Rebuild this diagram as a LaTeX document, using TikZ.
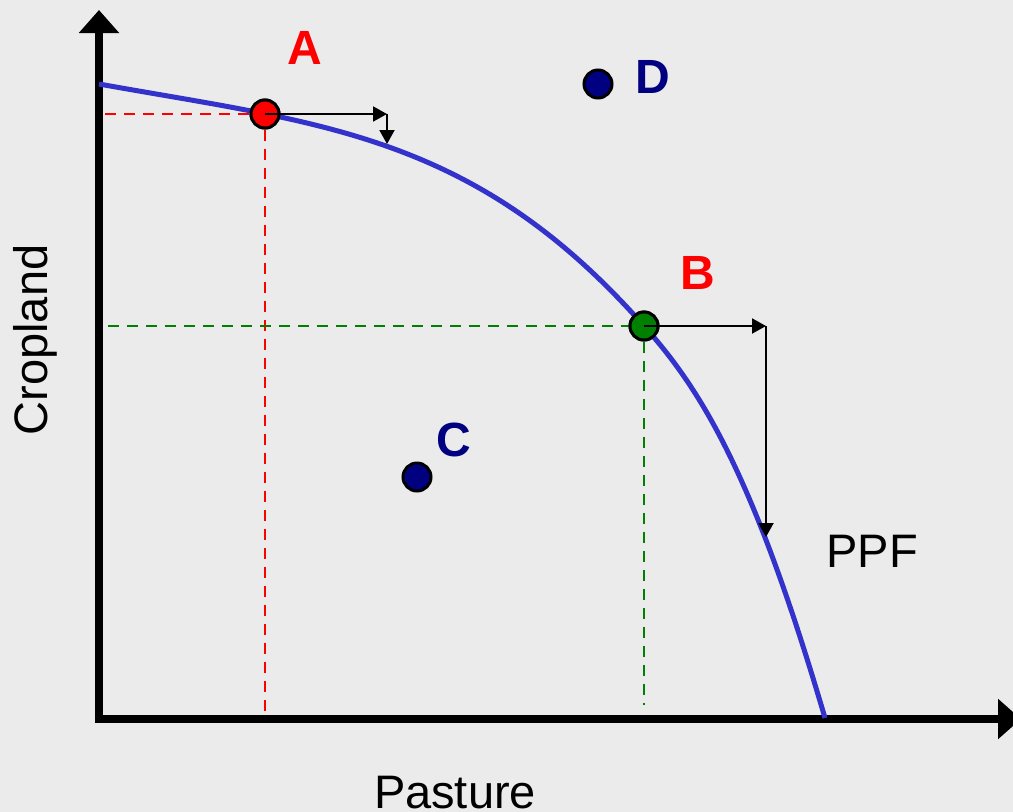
\documentclass[tikz,border=0pt]{standalone}
\usepackage{fontspec}
\setmainfont{Liberation Sans}
\usetikzlibrary{arrows.meta}
\definecolor{bg}{RGB}{235,235,235}
\definecolor{ppfblue}{RGB}{51,51,204}
\definecolor{navy}{RGB}{0,0,128}
\definecolor{dgreen}{RGB}{0,128,0}
\definecolor{lred}{RGB}{255,0,0}
\begin{document}
\begin{tikzpicture}[x=1pt,y=-1pt,
  axis/.style={line width=8pt,-{Triangle[length=23pt,width=39pt]}},
  move/.style={line width=2pt,-{Triangle[length=14pt,width=15pt]}},
  guide/.style={line width=2.4pt,dash pattern=on 11pt off 8pt},
  ppf/.style={line width=5pt,ppfblue},
  dot/.style={circle,draw=black,line width=3pt,minimum size=28pt,inner sep=0pt},
  lbl/.style={font=\fontsize{48}{56}\selectfont\bfseries},
  txt/.style={font=\fontsize{47}{56}\selectfont}]
\fill[bg] (0,0) rectangle (1013,812);
\useasboundingbox (0,0) rectangle (1013,812);
% axes
\coordinate (ybot) at (99,723);
\coordinate (ytop) at (99,10);
\coordinate (xbeg) at (95,719);
\coordinate (xend) at (1021,719);
\draw[axis] (ybot) -- (ytop);
\draw[axis] (xbeg) -- (xend);
% points
\node[dot,fill=lred] (A) at (265,114) {};
\node[dot,fill=dgreen] (B) at (644,326) {};
\node[dot,fill=navy] (C) at (417,477) {};
\node[dot,fill=navy] (D) at (598,84) {};
% guides
\coordinate (Ay) at (105,114);
\coordinate (Ax) at (265,718);
\coordinate (By) at (108,326);
\coordinate (Bx) at (644,705);
\draw[guide,lred] (Ay) -- (A.west);
\draw[guide,lred] (A.south) -- (Ax);
\draw[guide,dgreen] (By) -- (B.west);
\draw[guide,dgreen] (B.south) -- (Bx);
% PPF curve
\coordinate (ppfstart) at (99,84);
\coordinate (ppfend) at (825,718);
\draw[ppf] (ppfstart) .. controls (319,123.6) and (474,133) .. (B.center)
  .. controls (704,392.8) and (755,480) .. (ppfend);
% redraw points on top
\node[dot,fill=lred] at (A) {};
\node[dot,fill=dgreen] at (B) {};
% moves
\coordinate (a1) at (387,114);
\coordinate (a2) at (387,144);
\coordinate (b1) at (766,326);
\coordinate (b2) at (766,537);
\draw[move] (A.center) -- (a1);
\draw[move] (a1) -- (a2);
\draw[move] (B.center) -- (b1);
\draw[move] (b1) -- (b2);
% labels
\node[lbl,text=lred] (lA) at (305,48) {A};
\node[lbl,text=lred] (lB) at (698,273) {B};
\node[lbl,text=navy] (lC) at (454,440) {C};
\node[lbl,text=navy] (lD) at (653,77) {D};
\node[txt] (lppf) at (872,551) {PPF};
\node[txt,rotate=90] (ylab) at (35,340) {Cropland};
\node[txt,inner sep=0pt] (xlab) at (455,793) {Pasture};
\end{tikzpicture}
\end{document}
